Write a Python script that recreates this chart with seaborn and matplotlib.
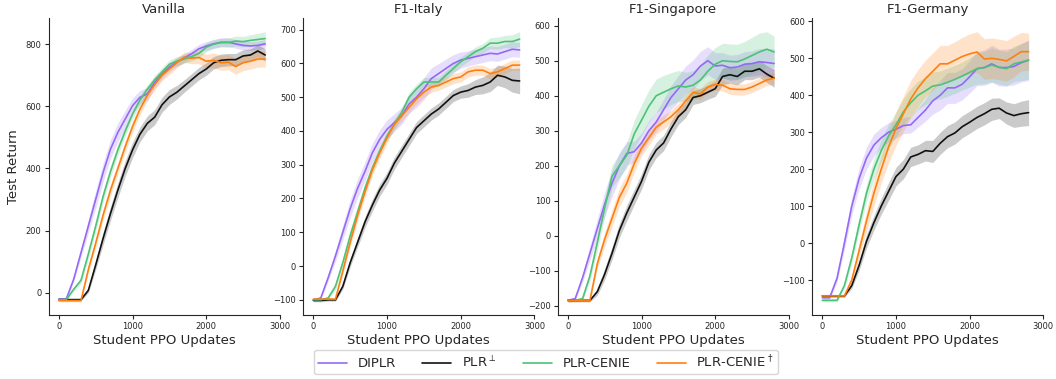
#!/usr/bin/env python3
"""
Test return curves of four curricula across four evaluation tracks.
"""
import numpy as np
import pandas as pd
import matplotlib
matplotlib.use("Agg")
import matplotlib.pyplot as plt
import seaborn as sns

updates = list(range(0, 2900, 100))
panels = ["Vanilla", "F1-Italy", "F1-Singapore", "F1-Germany"]
methods = ["DIPLR", "PLR$^\\perp$", "PLR-CENIE", "PLR-CENIE$^\\dagger$"]
colors = ["#9469f7", "#111111", "#4cc277", "#ff7f0e"]

# mean test return per method (rows follow `methods`)
vanilla_mean = [
    [-20, -20, 43, 129, 215, 301, 387, 462, 516, 559, 602, 629, 640, 677, 704,
     726, 742, 755, 769, 785, 794, 801, 806, 806, 801, 796, 794, 796, 801],
    [-22, -22, -22, -22, 8, 90, 175, 255, 330, 400, 460, 510, 545, 565, 605,
     630, 645, 665, 685, 705, 720, 740, 748, 750, 750, 762, 765, 778, 765],
    [-22, -22, 11, 40, 125, 215, 310, 390, 460, 520, 575, 620, 655, 685, 710,
     735, 745, 752, 760, 770, 790, 800, 805, 805, 810, 808, 812, 815, 818],
    [-25, -25, -25, -25, 75, 160, 250, 330, 400, 470, 535, 590, 635, 670, 700,
     720, 740, 758, 755, 757, 745, 748, 740, 742, 728, 740, 745, 752, 752],
]
italy_mean = [
    [-100, -95, -35, 30, 100, 170, 230, 280, 335, 375, 405, 425, 445, 480, 500,
     525, 555, 570, 585, 600, 610, 615, 620, 625, 630, 628, 635, 642, 640],
    [-102, -102, -100, -100, -60, 10, 70, 130, 180, 225, 260, 305, 340, 375, 410,
     430, 450, 465, 485, 505, 515, 520, 530, 535, 545, 565, 560, 550, 548],
    [-100, -100, -95, -60, 10, 90, 160, 230, 290, 340, 385, 420, 455, 500, 525,
     545, 545, 545, 565, 585, 605, 620, 635, 645, 660, 660, 665, 665, 672],
    [-98, -98, -98, -98, -15, 70, 150, 220, 285, 335, 380, 420, 445, 470, 495,
     515, 530, 535, 545, 555, 560, 575, 580, 580, 570, 575, 585, 595, 595],
]
singapore_mean = [
    [-185, -180, -120, -50, 20, 90, 150, 200, 235, 240, 265, 300, 325, 360, 395,
     420, 445, 460, 485, 500, 485, 487, 480, 482, 490, 492, 497, 495, 492],
    [-185, -185, -185, -185, -160, -110, -50, 15, 65, 110, 155, 210, 245, 265, 305,
     340, 360, 395, 400, 410, 420, 455, 460, 455, 470, 470, 477, 462, 450],
    [-185, -185, -180, -115, -20, 80, 170, 200, 230, 290, 330, 370, 400, 410, 420,
     428, 425, 430, 445, 470, 490, 500, 498, 497, 505, 515, 525, 533, 525],
    [-185, -185, -185, -185, -80, -10, 50, 110, 150, 205, 250, 280, 310, 325, 340,
     360, 385, 410, 405, 425, 432, 430, 420, 418, 418, 425, 435, 445, 450],
]
germany_mean = [
    [-148, -148, -95, 0, 100, 175, 230, 265, 285, 300, 308, 318, 320, 340, 360,
     385, 400, 420, 420, 430, 450, 472, 475, 485, 475, 475, 478, 488, 495],
    [-143, -143, -143, -143, -115, -60, 5, 55, 100, 140, 180, 200, 233, 240, 250,
     248, 270, 288, 298, 315, 327, 340, 350, 362, 365, 352, 345, 350, 353],
    [-155, -155, -155, -115, -40, 50, 135, 200, 250, 290, 320, 355, 380, 400, 412,
     425, 428, 435, 443, 452, 462, 472, 475, 482, 476, 472, 485, 490, 495],
    [-143, -143, -143, -143, -100, -20, 60, 135, 200, 260, 310, 350, 390, 420, 445,
     465, 485, 485, 495, 505, 512, 517, 498, 500, 497, 493, 505, 518, 518],
]

# half width of the shaded band per method
vanilla_band = [
    [4, 4, 8, 15, 22, 28, 30, 30, 30, 28, 25, 22, 20, 18, 16,
     15, 14, 14, 14, 14, 14, 14, 14, 14, 14, 14, 14, 14, 14],
    [4, 4, 4, 4, 8, 15, 20, 22, 24, 25, 25, 24, 24, 24, 24,
     24, 22, 20, 20, 20, 20, 20, 20, 20, 20, 20, 20, 20, 20],
    [4, 4, 6, 10, 14, 16, 18, 18, 18, 16, 15, 14, 14, 14, 14,
     14, 14, 14, 14, 14, 14, 14, 14, 15, 16, 17, 18, 20, 22],
    [4, 4, 4, 4, 10, 14, 16, 18, 18, 18, 18, 18, 18, 18, 18,
     18, 16, 16, 18, 20, 22, 24, 24, 25, 25, 25, 25, 26, 26],
]
italy_band = [
    [4, 5, 10, 16, 22, 26, 28, 28, 28, 28, 28, 26, 25, 28, 30,
     32, 32, 30, 28, 26, 24, 22, 22, 22, 22, 22, 22, 22, 22],
    [4, 4, 4, 4, 8, 12, 14, 16, 18, 18, 18, 18, 18, 18, 18,
     18, 18, 18, 18, 18, 18, 20, 22, 25, 28, 30, 32, 35, 38],
    [4, 4, 6, 10, 14, 16, 16, 16, 16, 14, 14, 14, 14, 14, 14,
     14, 14, 14, 14, 14, 14, 14, 14, 14, 16, 18, 18, 20, 22],
    [4, 4, 4, 4, 10, 14, 16, 18, 18, 18, 16, 16, 16, 16, 15,
     15, 15, 15, 15, 15, 15, 15, 15, 15, 15, 15, 15, 15, 15],
]
singapore_band = [
    [4, 5, 12, 20, 28, 34, 38, 38, 34, 30, 28, 28, 28, 30, 34,
     38, 40, 42, 42, 40, 38, 36, 36, 36, 36, 36, 38, 40, 42],
    [4, 4, 4, 4, 10, 16, 18, 20, 22, 22, 22, 22, 22, 22, 22,
     22, 22, 20, 20, 20, 22, 24, 24, 24, 24, 24, 24, 24, 26],
    [4, 4, 6, 14, 22, 28, 32, 34, 36, 40, 44, 46, 48, 48, 46,
     44, 42, 42, 44, 46, 48, 50, 50, 50, 50, 52, 54, 50, 45],
    [4, 4, 4, 4, 14, 20, 24, 26, 26, 24, 22, 22, 20, 20, 18,
     18, 18, 16, 16, 16, 16, 16, 16, 16, 16, 16, 16, 16, 16],
]
germany_band = [
    [4, 4, 10, 18, 24, 28, 30, 30, 28, 26, 24, 22, 22, 26, 30,
     36, 40, 42, 42, 42, 44, 46, 48, 50, 50, 50, 50, 52, 55],
    [4, 4, 4, 4, 8, 14, 18, 20, 22, 24, 25, 26, 26, 26, 28,
     30, 30, 30, 30, 30, 30, 30, 30, 30, 28, 30, 32, 34, 35],
    [4, 4, 4, 8, 14, 20, 24, 28, 30, 32, 34, 36, 38, 38, 38,
     38, 38, 38, 38, 38, 40, 42, 44, 46, 46, 46, 48, 50, 52],
    [4, 4, 4, 4, 12, 20, 28, 34, 38, 42, 46, 48, 50, 50, 50,
     50, 50, 50, 50, 52, 54, 55, 55, 55, 55, 55, 55, 52, 50],
]

panel_means = [vanilla_mean, italy_mean, singapore_mean, germany_mean]
panel_bands = [vanilla_band, italy_band, singapore_band, germany_band]

sns.set_style("ticks")
plt.rcParams["font.family"] = ["DejaVu Sans"]

fig, axes = plt.subplots(1, 4, figsize=(10.56, 3.79), dpi=100)
fig.subplots_adjust(left=0.046, right=0.988, bottom=0.168, top=0.952, wspace=0.1)

for ax, title, means, bands in zip(axes, panels, panel_means, panel_bands):
    frames = []
    for method, mean in zip(methods, means):
        frames.append(pd.DataFrame({"update": updates, "ret": mean, "method": method}))
    df = pd.concat(frames, ignore_index=True)

    for method, color, mean, band in zip(methods, colors, means, bands):
        lo = np.array(mean) - np.array(band)
        hi = np.array(mean) + np.array(band)
        ax.fill_between(updates, lo, hi, color=color, alpha=0.22, linewidth=0)

    sns.lineplot(data=df, x="update", y="ret", hue="method", hue_order=methods,
                 palette=colors, linewidth=1.2, legend=False, ax=ax)

    ax.set_title(title, fontsize=9.5, pad=4)
    ax.set_xlabel("Student PPO Updates", fontsize=9.5, labelpad=2)
    ax.set_ylabel("")
    ax.set_xticks([0, 1000, 2000, 3000])
    ax.set_xlim(-140, 3000)
    ax.tick_params(labelsize=6, length=3, pad=2)
    sns.despine(ax=ax)

axes[0].set_ylabel("Test Return", fontsize=9.5)

handles = [plt.Line2D([], [], color=c, linewidth=1.2) for c in colors]
fig.legend(handles, methods, loc="lower center", ncol=4, fontsize=9.5,
           bbox_to_anchor=(0.517, -0.005), frameon=True, columnspacing=2.0,
           handlelength=2.2, borderpad=0.3, handletextpad=0.8)

plt.savefig("out.png", dpi=100)
